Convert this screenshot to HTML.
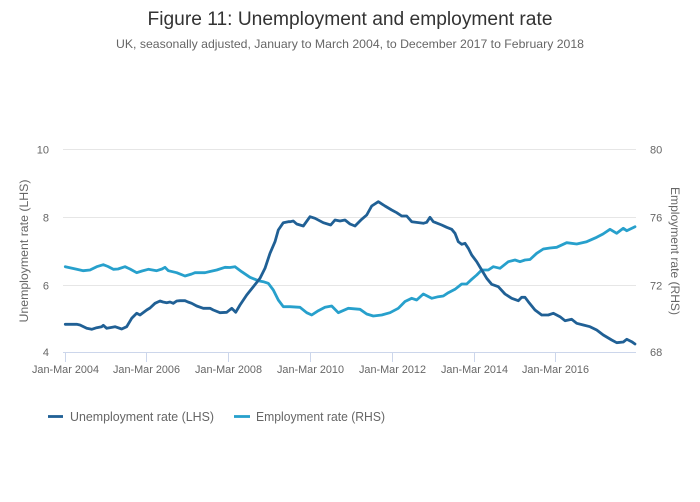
<!DOCTYPE html>
<html><head><meta charset="utf-8"><style>
html,body{margin:0;padding:0;background:#fff;}
svg{display:block;font-family:"Liberation Sans",sans-serif;}
</style></head><body>
<svg width="700" height="502" viewBox="0 0 700 502" xmlns="http://www.w3.org/2000/svg">
<rect width="700" height="502" fill="#fff"/>
<text x="350" y="25" text-anchor="middle" font-size="19" fill="#333" textLength="405" lengthAdjust="spacingAndGlyphs">Figure 11: Unemployment and employment rate</text>
<text x="350" y="48" text-anchor="middle" font-size="12" fill="#666" textLength="468" lengthAdjust="spacingAndGlyphs">UK, seasonally adjusted, January to March 2004, to December 2017 to February 2018</text>
<g stroke="#e6e6e6" stroke-width="1">
<line x1="63" y1="149.5" x2="636" y2="149.5"/>
<line x1="63" y1="217.5" x2="636" y2="217.5"/>
<line x1="63" y1="285.5" x2="636" y2="285.5"/>
</g>
<g stroke="#ccd6eb" stroke-width="1">
<line x1="63" y1="352.5" x2="636" y2="352.5"/>
<line x1="65.5" y1="352" x2="65.5" y2="362"/>
<line x1="146.5" y1="352" x2="146.5" y2="362"/>
<line x1="228.5" y1="352" x2="228.5" y2="362"/>
<line x1="310.5" y1="352" x2="310.5" y2="362"/>
<line x1="392.5" y1="352" x2="392.5" y2="362"/>
<line x1="474.5" y1="352" x2="474.5" y2="362"/>
<line x1="555.5" y1="352" x2="555.5" y2="362"/>
</g>
<g font-size="11" fill="#666" text-anchor="end">
<text x="49" y="153.5">10</text>
<text x="49" y="221.5">8</text>
<text x="49" y="289.5">6</text>
<text x="49" y="356">4</text>
</g>
<g font-size="11" fill="#666" text-anchor="start">
<text x="650" y="153.5">80</text>
<text x="650" y="221.5">76</text>
<text x="650" y="289.5">72</text>
<text x="650" y="356">68</text>
</g>
<g font-size="11" fill="#666" text-anchor="middle">
<text x="65.5" y="373" textLength="67" lengthAdjust="spacingAndGlyphs">Jan-Mar 2004</text>
<text x="146.5" y="373" textLength="67" lengthAdjust="spacingAndGlyphs">Jan-Mar 2006</text>
<text x="228.5" y="373" textLength="67" lengthAdjust="spacingAndGlyphs">Jan-Mar 2008</text>
<text x="310.5" y="373" textLength="67" lengthAdjust="spacingAndGlyphs">Jan-Mar 2010</text>
<text x="392.5" y="373" textLength="67" lengthAdjust="spacingAndGlyphs">Jan-Mar 2012</text>
<text x="474.5" y="373" textLength="67" lengthAdjust="spacingAndGlyphs">Jan-Mar 2014</text>
<text x="555.5" y="373" textLength="67" lengthAdjust="spacingAndGlyphs">Jan-Mar 2016</text>
</g>
<text transform="translate(28,251) rotate(-90)" text-anchor="middle" font-size="12" fill="#666" textLength="143" lengthAdjust="spacingAndGlyphs">Unemployment rate (LHS)</text>
<text transform="translate(671,251) rotate(90)" text-anchor="middle" font-size="12" fill="#666" textLength="128" lengthAdjust="spacingAndGlyphs">Employment rate (RHS)</text>
<polyline fill="none" stroke="#27a0cc" stroke-width="2.8" stroke-linejoin="round" stroke-linecap="round" points="65.3,266.7 76.7,269.3 83.3,270.7 90,270 96.7,266.7 103.3,264.7 108,266.5 113.3,269.3 118,269 125,266.7 130,269 136.7,272.7 142,271 148.3,269.3 156.7,270.7 162,269 165,267.3 168.3,270.7 176.7,272.7 185,276 191.7,274 195,272.7 205,272.7 210,271.5 216.7,270 225,267.3 230,267.5 235,266.7 241.7,271.7 250,277.3 258.3,280.7 263.3,281.7 268.3,283.3 273.3,290 278.3,300 283.3,306.7 290,306.7 300,307.3 306.7,312.7 311.7,315 318.3,310.7 325,307.3 331.7,306 338.3,312.7 348.3,308.3 360,309.3 366.7,314 373.3,316 381.7,315 390,312.7 398.3,308.3 405,301.5 411.7,298.3 416.7,300 423.3,294 431.7,298.3 438.3,296.7 443.3,296 448.3,292.7 455,289.3 461.7,284 466.7,284 471.7,279.3 476.7,275 481.7,270 488.3,270 493.3,266.7 500,268.3 508.3,261.7 515,260 520,261.7 525,260 530,259.5 536.7,253.3 543.3,249 550,248 556.7,247.3 566.7,242.7 576.7,244 586.7,241.7 596.7,237.3 603,234 610,229.3 616.7,233.3 623.3,228.3 626.7,230.7 635,226.7"/>
<polyline fill="none" stroke="#206095" stroke-width="2.8" stroke-linejoin="round" stroke-linecap="round" points="65.3,324.3 76.7,324.3 80,325 86.7,328.3 91.7,329.3 96.7,327.7 101.7,326.7 103.3,325.3 106.7,328.3 111,327.5 115,326.7 121.7,329 126.7,326.7 131.7,318.3 136.7,313.3 140,315 146.7,310 150,308 155,303.3 160,301 163,302 166.7,302.7 170,302 173.3,303.3 176.7,301 180,300.7 185,300.7 188,302 191.7,303.3 196.7,306 203.3,308.3 210,308.3 213.3,310 220,312.7 226.7,312.3 231.7,308.3 235.7,312.3 240,305 246.7,295 253.3,286.7 260,278.3 265,268.3 270,253.3 275,241.7 278.3,230 283.3,222.7 288.3,221.7 290,221.7 293.3,221 296.7,224 303.3,226 310,216.7 315,218.3 323.3,222.7 330.7,225 335,220 340,221 345,220 350,224 355,226 361.7,219.3 366.7,215 371.7,206 378.3,201.7 385,206 391.7,210 396.7,212.7 401.7,216 406.7,216 411.7,221.7 423.3,223.3 426.7,222.3 430,217.3 433.3,221.7 441.7,225 446.7,227.3 451.7,229.3 455,233.3 458.3,241.7 461.7,244.3 465,243.3 468.3,248.3 471.7,255 476.7,261.7 481.7,270 486.7,278.3 491.7,284.3 498.3,286.7 505,294 511.7,298.3 518.3,300.7 521.7,297.3 525,297.3 528.3,301.7 535,310 541.7,315 548.3,315 553.3,313.3 560,316.7 565,320.7 571.7,319.3 576.7,323.3 583.3,325 590,326.7 596.7,330 603.3,335 611.7,340 616.7,342.7 623.3,342 626.7,339.3 631.7,341.7 635,344"/>
<line x1="48" y1="416.5" x2="63" y2="416.5" stroke="#206095" stroke-width="2.8"/>
<text x="70" y="421" font-size="12.5" fill="#666" textLength="144" lengthAdjust="spacingAndGlyphs">Unemployment rate (LHS)</text>
<line x1="234" y1="416.5" x2="250" y2="416.5" stroke="#27a0cc" stroke-width="2.8"/>
<text x="256" y="421" font-size="12.5" fill="#666" textLength="129" lengthAdjust="spacingAndGlyphs">Employment rate (RHS)</text>
</svg>
</body></html>
